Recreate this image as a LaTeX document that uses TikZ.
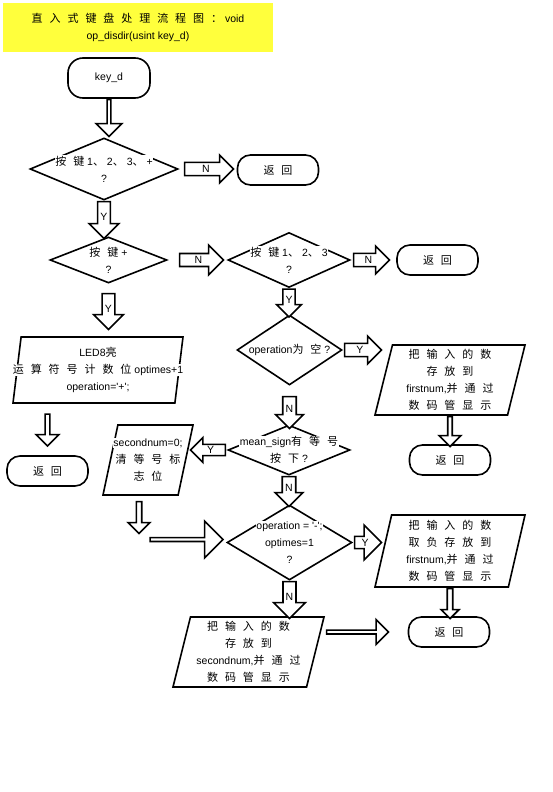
\documentclass[tikz,border=0pt]{standalone}
\usepackage{fontspec}
\setmainfont{Liberation Sans}
\newfontfamily\zh[Scale=1.05, WordSpace=2.8]{Noto Sans CJK SC}
\usepackage{tikz}
\usetikzlibrary{shapes.geometric, shapes.arrows, positioning, calc}
\definecolor{titleyellow}{RGB}{255,255,60}
% one line of text on a white ground
\newcommand\wline[1]{{\setlength{\fboxsep}{0.5pt}\colorbox{white}{#1}}}

\begin{document}
\begin{tikzpicture}[
  x=1pt, y=-1pt,
  every node/.style={font=\fontsize{10.5}{17}\selectfont},
  flow/.style={draw, line width=1.6pt},
  term/.style={flow, rectangle, rounded corners=13pt,
               minimum width=81pt, minimum height=30pt, inner sep=0pt},
  dec/.style={flow, diamond, inner sep=0pt},
  io/.style={flow, trapezium, trapezium stretches body, inner xsep=0pt},
  txt/.style={inner sep=0pt, align=center},
  barrow/.style={flow, single arrow, single arrow head indent=0pt,
                 inner sep=0.5pt, fill=white, anchor=tail,
                 font=\fontsize{10.5}{10.5}\selectfont},
  todown/.style={shape border rotate=270},
  toleft/.style={shape border rotate=180},
]
  \useasboundingbox (0,0) rectangle (553,792);

  % title
  \node[fill=titleyellow, minimum width=270pt, minimum height=49pt, align=center] (title) at (138,27.5)
    {{\zh 直 入 式 键 盘 处 理 流 程 图 ：} void\\op\_disdir(usint key\_d)};

  % terminals
  \node[term, minimum width=82pt, minimum height=40pt, rounded corners=15pt] (keyd) at (109,78) {key\_d};
  \node[term] (ret1) at (278,170)   {\zh 返 回};
  \node[term] (ret2) at (437.5,260) {\zh 返 回};
  \node[term] (retL) at (47.5,471)  {\zh 返 回};
  \node[term] (ret3) at (450,460)   {\zh 返 回};
  \node[term] (ret4) at (449,632)   {\zh 返 回};

  % decisions
  \node[dec, minimum width=148pt, minimum height=62pt,
        label={[txt]center:{\wline{{\zh 按 键} 1{\zh 、} 2{\zh 、} 3{\zh 、} +}\\\wline{?}}}] (dec1) at (104,169) {};
  \node[dec, minimum width=117pt, minimum height=46pt,
        label={[txt]center:{\wline{{\zh 按 键} +}\\\wline{?}}}] (dec2) at (108.5,260) {};
  \node[dec, minimum width=122pt, minimum height=55pt,
        label={[txt]center:{\wline{{\zh 按 键} 1{\zh 、} 2{\zh 、} 3}\\\wline{?}}}] (dec3) at (289,260) {};
  \node[dec, minimum width=105pt, minimum height=70pt,
        label={[txt]center:{\wline{operation{\zh 为 空} ?}}}] (dec4) at (289.5,350) {};
  \node[dec, minimum width=122pt, minimum height=50pt,
        label={[txt]center:{\wline{mean\_sign{\zh 有 等 号}}\\\wline{{\zh 按 下} ?}}}] (dec5) at (289,450) {};
  \node[dec, minimum width=125pt, minimum height=75pt,
        label={[txt]center:{\wline{operation = \textquotesingle-\textquotesingle;}\\\wline{optimes=1}\\\wline{?}}}] (dec6) at (289.5,542.5) {};

  % data boxes
  \node[io, trapezium left angle=83, trapezium right angle=97, minimum width=170pt, inner ysep=33pt,
        label={[txt]center:{\wline{LED8{\zh 亮}}\\\wline{{\zh 运 算 符 号 计 数 位} optimes+1}\\\wline{operation=\textquotesingle+\textquotesingle;}}}] (led) at (98,370) {};
  \node[io, trapezium left angle=78, trapezium right angle=102, minimum width=90pt, inner ysep=35pt,
        label={[txt]center:{\wline{secondnum=0;}\\\wline{\zh 清 等 号 标}\\\wline{\zh 志 位}}}] (clr) at (148,460) {};
  \node[io, trapezium left angle=76, trapezium right angle=104, minimum width=150pt, inner ysep=35pt,
        label={[txt]center:{\wline{\zh 把 输 入 的 数}\\\wline{\zh 存 放 到}\\\wline{firstnum,{\zh 并 通 过}}\\\wline{\zh 数 码 管 显 示}}}] (first) at (450,380) {};
  \node[io, trapezium left angle=77, trapezium right angle=103, minimum width=150pt, inner ysep=36pt,
        label={[txt]center:{\wline{\zh 把 输 入 的 数}\\\wline{\zh 取 负 存 放 到}\\\wline{firstnum,{\zh 并 通 过}}\\\wline{\zh 数 码 管 显 示}}}] (neg) at (450,551) {};
  \node[io, trapezium left angle=76, trapezium right angle=104, minimum width=151pt, inner ysep=35pt,
        label={[txt]center:{\wline{\zh 把 输 入 的 数}\\\wline{\zh 存 放 到}\\\wline{secondnum,{\zh 并 通 过}}\\\wline{\zh 数 码 管 显 示}}}] (second) at (248.5,652) {};

  % block arrows
  \node[barrow, todown, minimum height=37pt, minimum width=26pt, single arrow head extend=7.5pt] (a1) at (keyd.south) {};
  \node[barrow, minimum height=49pt, minimum width=28pt, single arrow head extend=5.5pt] (a2) at ($(dec1.east)+(5,0)$) {N};
  \node[barrow, todown, minimum height=37pt, minimum width=30pt, single arrow head extend=6.5pt] (a3) at (dec1.south) {Y};
  \node[barrow, minimum height=44pt, minimum width=30pt, single arrow head extend=6.5pt] (a4) at ($(dec2.east)+(11,0)$) {N};
  \node[barrow, minimum height=36pt, minimum width=28pt, single arrow head extend=5.5pt] (a5) at ($(dec3.east)+(2,0)$) {N};
  \node[barrow, todown, minimum height=28pt, minimum width=25pt, single arrow head extend=5pt] (a6) at (dec3.south) {Y};
  \node[barrow, todown, minimum height=36pt, minimum width=30pt, single arrow head extend=6.5pt] (a7) at ($(dec2.south)+(0,9)$) {Y};
  \node[barrow, todown, anchor=tip, minimum height=32pt, minimum width=23pt, single arrow head extend=5pt] (a8) at ($(retL.north)+(0,-8)$) {};
  \node[barrow, minimum height=37pt, minimum width=28pt, single arrow head extend=5.5pt] (a9) at ($(dec4.east)+(1,0)$) {Y};
  \node[barrow, todown, minimum height=30pt, minimum width=22pt, single arrow head extend=5pt] (a10) at (first.south) {};
  \node[barrow, todown, minimum height=32pt, minimum width=28pt, single arrow head extend=5.5pt] (a11) at ($(dec4.south)+(0,10)$) {N};
  \node[barrow, toleft, minimum height=35pt, minimum width=25pt, single arrow head extend=6pt] (a12) at ($(dec5.west)+(-1,0)$) {Y};
  \node[barrow, todown, minimum height=32pt, minimum width=22pt, single arrow head extend=4pt] (a13) at ($(clr.south)+(-9,5)$) {};
  \node[barrow, anchor=tip, minimum height=73pt, minimum width=37pt, single arrow head extend=11pt] (a14) at ($(dec6.west)+(-2,-3)$) {};
  \node[barrow, todown, minimum height=30pt, minimum width=28pt, single arrow head extend=5.5pt] (a15) at (dec5.south) {N};
  \node[barrow, minimum height=27pt, minimum width=35pt, single arrow head extend=9pt] (a16) at ($(dec6.east)+(1,0)$) {Y};
  \node[barrow, todown, minimum height=30pt, minimum width=18pt, single arrow head extend=3pt] (a17) at (neg.south) {};
  \node[barrow, todown, minimum height=37pt, minimum width=32pt, single arrow head extend=7.5pt] (a18) at (dec6.south) {N};
  \node[barrow, anchor=tip, minimum height=62pt, minimum width=25pt, single arrow head extend=7pt] (a19) at ($(ret4.west)+(-18,0)$) {};
\end{tikzpicture}
\end{document}
